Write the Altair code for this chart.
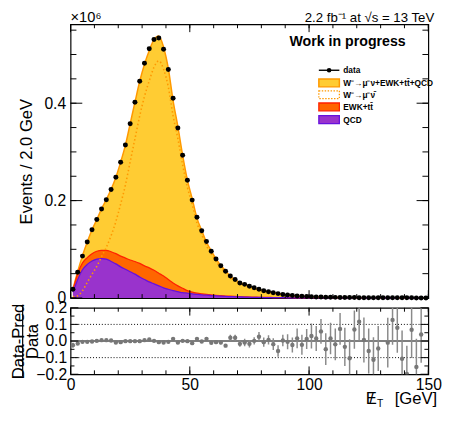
import altair as alt
import pandas as pd

# ---------------- data (events in units of 10^6 per 2 GeV bin) ----------------
met_centers = list(range(1, 150, 2))

data_events = [
    0.018, 0.053, 0.086, 0.115, 0.140, 0.161, 0.183, 0.202, 0.223, 0.248,
    0.279, 0.314, 0.358, 0.402, 0.445, 0.482, 0.512, 0.531, 0.534, 0.511,
    0.469, 0.410, 0.349, 0.293, 0.242, 0.201, 0.166, 0.138, 0.116, 0.096,
    0.080, 0.066, 0.055, 0.045, 0.038, 0.031, 0.028, 0.024, 0.021, 0.018,
    0.015, 0.013, 0.011, 0.0090, 0.0072, 0.0060, 0.0050, 0.0042, 0.0036, 0.0030,
    0.0026, 0.0022, 0.0019, 0.0017, 0.0015, 0.0013, 0.0012, 0.0010, 0.0009, 0.0008,
    0.0007, 0.0006, 0.0006, 0.0005, 0.0005, 0.0004, 0.0004, 0.0004, 0.0003, 0.0003,
    0.0003, 0.0003, 0.0002, 0.0002, 0.0002]

qcd_events = [
    0.012, 0.038, 0.058, 0.069, 0.076, 0.080, 0.081, 0.080, 0.075, 0.070,
    0.064, 0.059, 0.054, 0.049, 0.043, 0.038, 0.033, 0.029, 0.025, 0.021,
    0.018, 0.015, 0.013, 0.011, 0.010, 0.0086, 0.0075, 0.0065, 0.0057, 0.0050,
    0.0044, 0.0038, 0.0033, 0.0029, 0.0025, 0.0022, 0.0019, 0.0016, 0.0014, 0.0012,
    0.0010, 0.0009, 0.0008, 0.0007, 0.0006, 0.0005, 0.0004, 0.0003, 0.0003, 0.0002,
    0.0002, 0.0002, 0.0001, 0.0001, 0.0001, 0.0001, 0.0001, 0.0001, 0.0, 0.0,
    0.0, 0.0, 0.0, 0.0, 0.0, 0.0, 0.0, 0.0, 0.0, 0.0,
    0.0, 0.0, 0.0, 0.0, 0.0]

ewk_tt_events = [
    0.004, 0.012, 0.014, 0.014, 0.015, 0.016, 0.017, 0.018, 0.020, 0.021,
    0.022, 0.023, 0.024, 0.026, 0.028, 0.028, 0.029, 0.028, 0.026, 0.024,
    0.020, 0.016, 0.012, 0.009, 0.005, 0.0034, 0.0025, 0.0020, 0.0015, 0.0012,
    0.0010, 0.0009, 0.0008, 0.0007, 0.0006, 0.0005, 0.0005, 0.0004, 0.0004, 0.0003,
    0.0003, 0.0003, 0.0002, 0.0002, 0.0002, 0.0002, 0.0002, 0.0001, 0.0001, 0.0001,
    0.0001, 0.0001, 0.0001, 0.0001, 0.0001, 0.0001, 0.0001, 0.0001, 0.0001, 0.0001,
    0.0001, 0.0001, 0.0001, 0.0001, 0.0, 0.0, 0.0, 0.0, 0.0, 0.0,
    0.0, 0.0, 0.0, 0.0, 0.0]

wmunu_events = [
    0.0025, 0.0045, 0.015, 0.032, 0.049, 0.065, 0.085, 0.104, 0.128, 0.157,
    0.193, 0.232, 0.280, 0.327, 0.374, 0.414, 0.446, 0.474, 0.487, 0.470,
    0.433, 0.374, 0.327, 0.273, 0.227, 0.192, 0.154, 0.130, 0.107, 0.091,
    0.075, 0.062, 0.052, 0.041, 0.035, 0.029, 0.026, 0.022, 0.019, 0.016,
    0.0137, 0.0118, 0.0102, 0.0086, 0.0064, 0.0053, 0.0045, 0.0037, 0.0032, 0.0026,
    0.0022, 0.0019, 0.0016, 0.0016, 0.0013, 0.0011, 0.0010, 0.0009, 0.0009, 0.0007,
    0.0006, 0.0005, 0.0005, 0.0005, 0.0004, 0.0004, 0.0004, 0.0004, 0.0003, 0.0003,
    0.0003, 0.0003, 0.0002, 0.0002, 0.0002]

ratio_values = [
    -0.025, -0.015, -0.005, -0.005, -0.003, 0.001, 0.005, 0.005, 0.003, -0.009,
    -0.007, -0.001, -0.001, -0.001, -0.001, 0.005, 0.009, 0.001, -0.007, -0.009,
    -0.005, 0.013, -0.009, 0.001, -0.001, -0.013, 0.013, -0.003, 0.013, -0.011,
    -0.007, -0.009, -0.028, 0.020, 0.020, -0.017, -0.009, -0.017, 0.001, 0.026,
    -0.007, 0.007, -0.019, -0.060, 0.003, -0.005, -0.024, 0.016, -0.023, 0.012,
    0.030, 0.015, 0.058, -0.049, 0.015, -0.020, 0.073, -0.035, -0.104, 0.069,
    0.116, 0.006, -0.060, -0.113, -0.045, -0.350, -0.010, 0.127, 0.080, -0.107,
    -0.198, 0.068, -0.156, 0.039, 0.450]

ratio_errors = [
    0.015, 0.008,
    0.004, 0.004, 0.004, 0.004, 0.004, 0.004, 0.004, 0.004, 0.004, 0.004, 0.004,
    0.004, 0.004, 0.004, 0.004, 0.004, 0.004, 0.004, 0.004, 0.004, 0.004,
    0.006, 0.006, 0.006, 0.006, 0.006, 0.006, 0.006,
    0.010, 0.010, 0.010,
    0.018, 0.018, 0.018,
    0.022, 0.022, 0.022,
    0.028, 0.028, 0.028,
    0.035, 0.035, 0.035,
    0.045, 0.045,
    0.060, 0.060, 0.060,
    0.075, 0.075, 0.075,
    0.095, 0.095, 0.095, 0.095,
    0.115, 0.115, 0.115, 0.115,
    0.135, 0.135, 0.135, 0.135,
    0.150, 0.150, 0.150, 0.150,
    0.170, 0.170, 0.170, 0.170, 0.170, 0.170]

legend_labels = ["data", "W\u207b\u2192\u03bc\u207b\u03bd+EWK+tt\u0304+QCD",
                 "W\u207b\u2192\u03bc\u207b\u03bd\u0304", "EWK+tt\u0304", "QCD"]

x_minor_ticks = [0, 10, 20, 30, 40, 50, 60, 70, 80, 90, 100, 110, 120, 130, 140, 150]
x_major_ticks = [0, 50, 100, 150]
y_minor_ticks = [0, 0.05, 0.1, 0.15, 0.2, 0.25, 0.3, 0.35, 0.4, 0.45, 0.5, 0.55]
y_major_ticks = [0, 0.2, 0.4]
ratio_label_ticks = [-0.2, -0.1, 0.0, 0.1, 0.2]
ratio_minor_ticks = [-0.15, -0.05, 0.05, 0.15]
ratio_dotted = [-0.1, 0.1]
ratio_solid = [0.0]

# ---------------- layout constants ----------------
W = 366
H_MAIN = 280
H_RATIO = 68
FONT = "Liberation Sans"

YELLOW, YELLOW_LINE = "#FFCC33", "#FF9900"
ORANGE, ORANGE_LINE = "#FF6600", "#FF2200"
PURPLE, PURPLE_LINE = "#9933CC", "#6611DD"

df = pd.DataFrame({"met": met_centers, "data": data_events, "qcd": qcd_events,
                   "ewk": ewk_tt_events, "w": wmunu_events})
df["qcd_ewk"] = df["qcd"] + df["ewk"]
df["total"] = df["qcd_ewk"] + df["w"]

rdf = pd.DataFrame({"met": met_centers, "r": ratio_values, "e": ratio_errors})
rdf["lo"] = rdf["r"] - rdf["e"]
rdf["hi"] = rdf["r"] + rdf["e"]

xs = alt.Scale(domain=[0, 150], nice=False, zero=False)
ys = alt.Scale(domain=[0, 0.562], nice=False)
rys = alt.Scale(domain=[-0.2, 0.2], nice=False)

y_axis = alt.Axis(values=y_major_ticks,
                  labelExpr="datum.value == 0 ? '0' : format(datum.value, '.1f')",
                  ticks=False, domain=False, grid=False, labelFontSize=16,
                  labelPadding=5, title="Events / 2.0 GeV", titleFontSize=17,
                  titleFontWeight="normal", titlePadding=9)
r_x_axis = alt.Axis(values=x_major_ticks, format="d", ticks=False, domain=False,
                    grid=False, labelFontSize=16, labelPadding=3, labelFlush=False,
                    title=None)
r_y_axis = alt.Axis(values=ratio_label_ticks, format=".1f", ticks=False,
                    domain=False, grid=False, labelFontSize=16, labelPadding=4,
                    title=["Data-Pred", "Data"], titleFontSize=17,
                    titleFontWeight="normal", titleLineHeight=15, titlePadding=-6)

X = alt.X("met:Q", scale=xs, axis=None)


def txt(text, x, y, size, **kw):
    return alt.Chart(pd.DataFrame({"t": [text]})).mark_text(
        fontSize=size, font=FONT, **kw).encode(
        x=alt.value(x), y=alt.value(y), text="t:N")


def x_ticks(vals, length, height):
    d = alt.Chart(pd.DataFrame({"v": vals}))
    enc = alt.X("v:Q", scale=xs, axis=None)
    bottom = d.mark_rule(color="black", strokeWidth=1).encode(
        x=enc, y=alt.value(height), y2=alt.value(height - length))
    top = d.mark_rule(color="black", strokeWidth=1).encode(
        x=enc, y=alt.value(0), y2=alt.value(length))
    return [bottom, top]


def y_ticks(vals, length, scale, axis):
    d = alt.Chart(pd.DataFrame({"v": vals}))
    enc = alt.Y("v:Q", scale=scale, axis=axis)
    left = d.mark_rule(color="black", strokeWidth=1).encode(
        y=enc, x=alt.value(0), x2=alt.value(length))
    right = d.mark_rule(color="black", strokeWidth=1).encode(
        y=enc, x=alt.value(W), x2=alt.value(W - length))
    return [left, right]


base = alt.Chart(df)
area_total = base.mark_area(
    color=YELLOW, opacity=1, interpolate="monotone",
    line=alt.OverlayMarkDef(color=YELLOW_LINE, strokeWidth=1.5)).encode(
    x=X, y=alt.Y("total:Q", scale=ys, axis=y_axis, stack=None))
area_ewk = base.mark_area(
    color=ORANGE, opacity=1, interpolate="monotone",
    line=alt.OverlayMarkDef(color=ORANGE_LINE, strokeWidth=1.3)).encode(
    x=X, y=alt.Y("qcd_ewk:Q", scale=ys, axis=y_axis, stack=None))
area_qcd = base.mark_area(
    color=PURPLE, opacity=1, interpolate="monotone",
    line=alt.OverlayMarkDef(color=PURPLE_LINE, strokeWidth=1.3)).encode(
    x=X, y=alt.Y("qcd:Q", scale=ys, axis=y_axis, stack=None))
w_line = base.mark_line(color=YELLOW_LINE, strokeDash=[1.5, 2.5], strokeWidth=1.6,
                        interpolate="monotone").encode(
    x=X, y=alt.Y("w:Q", scale=ys, axis=y_axis))
data_pts = base.mark_circle(color="black", size=26, opacity=1).encode(
    x=X, y=alt.Y("data:Q", scale=ys, axis=y_axis))

# legend (drawn inside the plot area)
LX0, LX1, LTX = 254, 275, 279
leg_rows = [47, 60, 72, 84.5, 97.5]
one = alt.Chart(pd.DataFrame({"a": [0]}))
leg = [
    one.mark_rule(color="black", strokeWidth=1.4).encode(
        x=alt.value(LX0), x2=alt.value(LX1), y=alt.value(leg_rows[0])),
    one.mark_circle(color="black", size=22, opacity=1).encode(
        x=alt.value((LX0 + LX1) / 2), y=alt.value(leg_rows[0])),
    one.mark_rect(fill=YELLOW, stroke=YELLOW_LINE, strokeWidth=1.5).encode(
        x=alt.value(LX0), x2=alt.value(LX1),
        y=alt.value(leg_rows[1] - 4), y2=alt.value(leg_rows[1] + 4)),
    one.mark_rect(fill="white", stroke=YELLOW_LINE, strokeWidth=1.3,
                  strokeDash=[1.5, 1.5]).encode(
        x=alt.value(LX0), x2=alt.value(LX1),
        y=alt.value(leg_rows[2] - 4), y2=alt.value(leg_rows[2] + 4)),
    one.mark_rect(fill=ORANGE, stroke=ORANGE_LINE, strokeWidth=1.3).encode(
        x=alt.value(LX0), x2=alt.value(LX1),
        y=alt.value(leg_rows[3] - 4), y2=alt.value(leg_rows[3] + 4)),
    one.mark_rect(fill=PURPLE, stroke=PURPLE_LINE, strokeWidth=1.3).encode(
        x=alt.value(LX0), x2=alt.value(LX1),
        y=alt.value(leg_rows[4] - 4), y2=alt.value(leg_rows[4] + 4)),
]
for lab, yy in zip(legend_labels, leg_rows):
    leg.append(txt(lab, LTX, yy, 8.5, align="left", baseline="middle",
                   fontWeight="bold", color="black"))

annotations = [
    txt("\u00d710\u2076", 0, -2, 15, align="left", baseline="alphabetic", color="black"),
    txt("2.2 fb\u207b\u00b9 at  \u221as = 13 TeV", W + 6, -2, 13.5, align="right",
        baseline="alphabetic", color="black"),
    txt("Work in progress", 224, 18, 14.5, align="left", baseline="middle",
        fontWeight="bold", color="black"),
]

main_layers = ([area_total, area_ewk, area_qcd, w_line, data_pts]
               + x_ticks(x_minor_ticks, 4, H_MAIN) + x_ticks(x_major_ticks, 8, H_MAIN)
               + y_ticks(y_minor_ticks, 6, ys, y_axis) + y_ticks(y_major_ticks, 12, ys, y_axis)
               + leg + annotations)
main = alt.layer(*main_layers).properties(width=W, height=H_MAIN)

# ---------------- ratio panel ----------------
RX = alt.X("met:Q", scale=xs, axis=r_x_axis)
rbase = alt.Chart(rdf)
err_bars = rbase.mark_rule(color="#8a8a8a", strokeWidth=1.5, clip=True).encode(
    x=RX, y=alt.Y("lo:Q", scale=rys, axis=r_y_axis), y2="hi:Q")
r_pts = rbase.mark_circle(color="#777777", size=20, opacity=1, clip=True).encode(
    x=RX, y=alt.Y("r:Q", scale=rys, axis=r_y_axis))
dotted = alt.Chart(pd.DataFrame({"v": ratio_dotted})).mark_rule(
    color="black", strokeDash=[1, 2], strokeWidth=1).encode(
    y=alt.Y("v:Q", scale=rys, axis=r_y_axis))
solid = alt.Chart(pd.DataFrame({"v": ratio_solid})).mark_rule(
    color="black", strokeWidth=1.2).encode(
    y=alt.Y("v:Q", scale=rys, axis=r_y_axis))


def rx_ticks(vals, length):
    d = alt.Chart(pd.DataFrame({"v": vals}))
    enc = alt.X("v:Q", scale=xs, axis=r_x_axis)
    return [d.mark_rule(color="black").encode(x=enc, y=alt.value(H_RATIO),
                                               y2=alt.value(H_RATIO - length)),
            d.mark_rule(color="black").encode(x=enc, y=alt.value(0),
                                               y2=alt.value(length))]


frac_bar = one.mark_rule(color="black", strokeWidth=1.2).encode(
    x=alt.value(-49), y=alt.value(-3), y2=alt.value(70))

x_title = [
    txt("E", 302, 98, 17, align="left", baseline="alphabetic", color="black"),
    txt("/", 305.5, 98, 17, align="left", baseline="alphabetic", color="black"),
    txt("T", 313.5, 101, 10.5, align="left", baseline="alphabetic", color="black"),
    txt("[GeV]", 375, 98, 17, align="right", baseline="alphabetic", color="black"),
]

ratio_layers = ([dotted, solid, err_bars, r_pts]
                + rx_ticks(x_minor_ticks, 4) + rx_ticks(x_major_ticks, 8)
                + y_ticks(ratio_label_ticks, 8, rys, r_y_axis)
                + y_ticks(ratio_minor_ticks, 4, rys, r_y_axis)
                + [frac_bar] + x_title)
ratio = alt.layer(*ratio_layers).properties(width=W, height=H_RATIO)

chart = alt.vconcat(main, ratio, spacing=10, bounds="flush").properties(
    padding={"left": 0, "top": -3, "right": 0, "bottom": 0}
).configure(font=FONT).configure_view(stroke="black", strokeWidth=1.2).configure_axis(
    labelColor="black", titleColor="black", labelFont=FONT, titleFont=FONT)

chart.save("out.html", embed_options={"renderer": "svg", "actions": False})
